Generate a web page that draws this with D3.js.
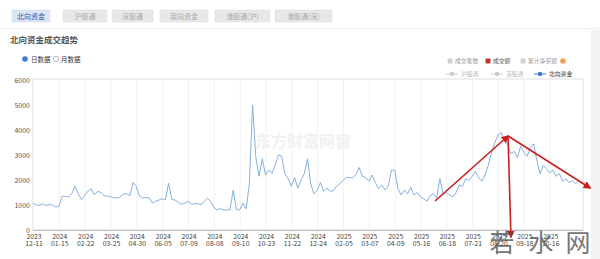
<!DOCTYPE html>
<html><head><meta charset="utf-8">
<script src="https://cdn.jsdelivr.net/npm/d3@7"></script>
<style>
body{margin:0;background:#fff}
svg{display:block;font-family:"Noto Sans CJK SC","Noto Sans",sans-serif}
</style>
</head><body>
<svg id="c" width="600" height="259"></svg>
<script>
const tabs = ["北向资金","沪股通","深股通","南向资金","港股通(沪)","港股通(深)"];
const title = "北向资金成交趋势";
const radios = ["日数据","月数据"];
const legendRow1 = [{name:"成交笔数",color:"#d0d0d0"},{name:"成交额",color:"#c23531"},{name:"累计净买额",color:"#d0d0d0"},{name:"",color:"#f0a050"}];
const legendRow2 = [{name:"沪股通",color:"#ccc"},{name:"深股通",color:"#ccc"},{name:"北向资金",color:"#3a7bd5"}];
const tickYears = ["2023","2024","2024","2024","2024","2024","2024","2024","2024","2024","2024","2024","2025","2025","2025","2025","2025","2025","2025","2025","2025"];
const tickDates = ["12-11","01-15","02-22","03-25","04-30","06-05","07-09","08-08","09-10","10-23","11-22","12-24","02-05","03-07","04-09","05-16","06-18","07-21","08-20","09-18","10-16"];
const yTicks = [0,1000,2000,3000,4000,5000,6000];
const values = [
1080,1000,980,1050,980,1020,1000,920,940,1350,
1350,1320,1450,1750,1450,1220,1380,1550,1650,1400,
1550,1500,1380,1350,1330,1300,1280,1320,1450,1450,
1380,1900,1750,1350,1280,1300,1280,1080,1150,1200,
1250,1200,1870,1220,1200,1100,1030,1070,1150,1030,
1050,1060,1000,1150,1270,1150,900,800,860,800,
800,820,1600,820,800,1080,850,1870,5000,2900,
2150,2850,2200,2400,2270,2600,3000,2950,2250,2050,
1750,2100,1680,2000,2250,2850,1850,1450,1580,1900,
1550,1680,1550,1570,1750,1850,1980,2100,2100,2080,
2220,2500,2150,2100,1950,2200,1900,1650,1800,1600,
1750,2400,2400,1650,1400,1600,1450,1700,1400,1500,
1320,1250,1150,1380,1450,1300,2050,1420,1500,1400,
1330,1500,1800,1750,2050,1980,2150,2350,2100,1950,
2200,2600,3100,3500,3800,3900,3600,3400,3050,3150,
2900,3350,3100,2950,3300,3450,2800,2250,2580,2450,
2280,2400,2150,2250,1950,2050,1900,1980,1850,1950,
1850];
const tickEvery = 8;
// annotation arrows in data coordinates [index, value]
const arrowPeak = [147.1, 3760];
const arrowStarts = [[124.5, 1160]];
const arrowEnds = [[148, -280],[172.5, 1680]];
const watermark = "东方财富网窗";
const siteMark = ["若","水","网"];

const svg = d3.select("#c");
const W = 600, H = 259;
const defs = svg.append("defs");
defs.append("marker").attr("id","ah").attr("viewBox","0 0 10 10").attr("refX",8).attr("refY",5)
  .attr("markerWidth",5).attr("markerHeight",5).attr("orient","auto")
  .append("path").attr("d","M0,0 L10,5 L0,10 z").attr("fill","#c8201f");

svg.append("rect").attr("width",W).attr("height",H).attr("fill","#fff");
svg.append("rect").attr("x",591).attr("y",30).attr("width",9).attr("height",229).attr("fill","#f2f2f2");

// tabs
const tabX = [12,63,112,160,215,275], tabW = [38,44,41,48,55,57];
tabs.forEach((t,i)=>{
  svg.append("rect").attr("x",tabX[i]).attr("y",10).attr("width",tabW[i]).attr("height",12)
    .attr("fill", i===0?"#dbe5f3":"#e8e8e8").attr("stroke",i===0?"#c9d6ea":"#dcdcdc").attr("stroke-width",0.5);
  svg.append("text").attr("x",tabX[i]+tabW[i]/2).attr("y",19).attr("text-anchor","middle")
    .attr("font-size",7).attr("fill",i===0?"#2f5fa8":"#aaa").text(t);
});
svg.append("line").attr("x1",0).attr("x2",600).attr("y1",28.5).attr("y2",28.5).attr("stroke","#eee");

svg.append("text").attr("x",10).attr("y",43).attr("font-size",8.5).attr("font-weight","bold").attr("fill","#555").text(title);
// radios
svg.append("circle").attr("cx",25).attr("cy",59).attr("r",2.8).attr("fill","#3a7bd5");
svg.append("text").attr("x",31).attr("y",61.5).attr("font-size",6.5).attr("fill","#333").text(radios[0]);
svg.append("circle").attr("cx",56).attr("cy",59).attr("r",2.6).attr("fill","#fff").attr("stroke","#888").attr("stroke-width",0.6);
svg.append("text").attr("x",61).attr("y",61.5).attr("font-size",6.5).attr("fill","#333").text(radios[1]);

// legend row 1
const l1x = [450,488,523,563];
legendRow1.forEach((d,i)=>{
  if(i===3){svg.append("circle").attr("cx",l1x[i]).attr("cy",61).attr("r",2.8).attr("fill",d.color);}
  else svg.append("rect").attr("x",l1x[i]-2.5).attr("y",58.5).attr("width",5).attr("height",5).attr("rx",1).attr("fill",d.color);
  if(d.name) svg.append("text").attr("x",l1x[i]+5).attr("y",63).attr("font-size",5.8).attr("fill",i===1?"#555":"#999").text(d.name);
});
// legend row 2
const l2x = [452,497,540];
legendRow2.forEach((d,i)=>{
  svg.append("line").attr("x1",l2x[i]-6).attr("x2",l2x[i]+6).attr("y1",74).attr("y2",74).attr("stroke",d.color).attr("stroke-width",1);
  svg.append("circle").attr("cx",l2x[i]).attr("cy",74).attr("r",2.2).attr("fill",d.color);
  svg.append("text").attr("x",l2x[i]+9).attr("y",76).attr("font-size",5.8).attr("fill",i===2?"#333":"#bbb").text(d.name);
});

// scales
const x = d3.scaleLinear().domain([0, values.length-1]).range([33, 582]);
const y = d3.scaleLinear().domain([0, 6000]).range([230, 80]);

// plot box
svg.append("rect").attr("x",33).attr("y",79).attr("width",550).attr("height",151).attr("fill","#fff").attr("stroke","#d8d8d8").attr("stroke-width",0.8);
const tickIdx = tickDates.map((d,i)=>i*tickEvery);
svg.append("g").selectAll("line").data(tickIdx).join("line")
  .attr("x1",d=>x(d)+0.5).attr("x2",d=>x(d)+0.5).attr("y1",80).attr("y2",230).attr("stroke","#f1f1f1");

// watermark
svg.append("text").attr("x",303).attr("y",147).attr("text-anchor","middle").attr("font-size",16).attr("font-weight","bold")
  .attr("fill","#f1f1f1").text(watermark);

// y axis labels
svg.append("g").selectAll("text").data(yTicks).join("text")
  .attr("x",30).attr("y",d=>y(d)+2.5).attr("text-anchor","end").attr("font-size",7).attr("fill","#555").text(d=>d);
// x axis
svg.append("line").attr("x1",33).attr("x2",583).attr("y1",230.5).attr("y2",230.5).attr("stroke","#bbb");
const xl = svg.append("g").selectAll("text").data(tickIdx).join("text")
  .attr("text-anchor","middle").attr("font-size",6.8).attr("fill","#444");
xl.append("tspan").attr("x",d=>x(d)+1).attr("y",239).text((d,i)=>tickYears[i]);
xl.append("tspan").attr("x",d=>x(d)+1).attr("y",246).text((d,i)=>tickDates[i]);

// line
const line = d3.line().x((d,i)=>x(i)).y(d=>y(d));
svg.append("path").datum(values).attr("d",line).attr("fill","none").attr("stroke","#86b0de").attr("stroke-width",1).attr("stroke-linejoin","round");

// arrows
const px = p=>[x(p[0]), y(p[1])];
arrowStarts.forEach(s=>{
  const a=px(s), b=px(arrowPeak);
  svg.append("line").attr("x1",a[0]).attr("y1",a[1]).attr("x2",b[0]).attr("y2",b[1]).attr("stroke","#c8201f").attr("stroke-width",1.6).attr("marker-end","url(#ah)");
});
arrowEnds.forEach(e=>{
  const a=px(arrowPeak), b=px(e);
  svg.append("line").attr("x1",a[0]).attr("y1",a[1]).attr("x2",b[0]).attr("y2",b[1]).attr("stroke","#c8201f").attr("stroke-width",1.6).attr("marker-end","url(#ah)");
});

// site watermark
const smx = [502,541,578];
siteMark.forEach((c,i)=>{
  svg.append("text").attr("x",smx[i]).attr("y",252).attr("text-anchor","middle").attr("font-size",25)
    .attr("fill","#555").attr("opacity",0.8).text(c);
});
</script>
</body></html>
